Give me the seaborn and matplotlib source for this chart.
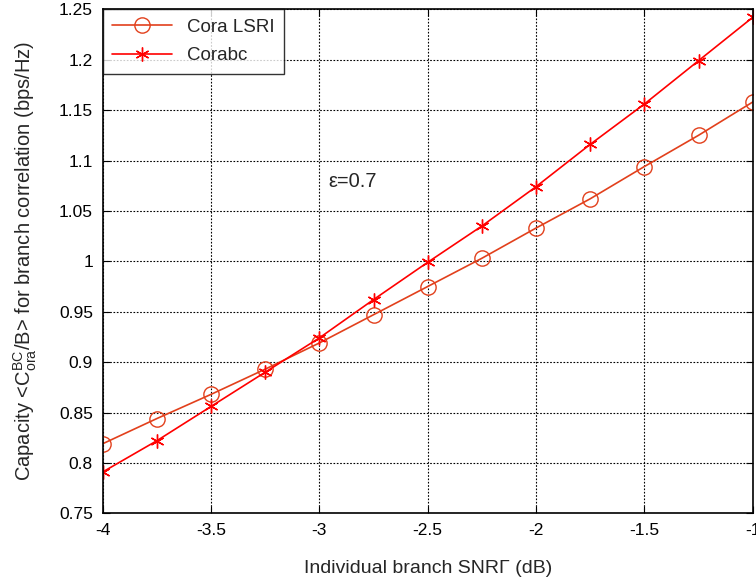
import numpy as np
import pandas as pd
import seaborn as sns
import matplotlib
matplotlib.use("Agg")
import matplotlib.pyplot as plt

snr_db = [-4, -3.75, -3.5, -3.25, -3, -2.75, -2.5, -2.25, -2, -1.75, -1.5, -1.25, -1]
cora_lsri = [0.819, 0.844, 0.868, 0.893, 0.919, 0.947, 0.975, 1.003, 1.033, 1.062, 1.094, 1.125, 1.158]
corabc = [0.791, 0.822, 0.856, 0.890, 0.924, 0.962, 0.999, 1.035, 1.074, 1.116, 1.156, 1.199, 1.242]
series_names = ["Cora LSRI", "Corabc"]
xticks = [-4, -3.5, -3, -2.5, -2, -1.5, -1]
yticks = [0.75, 0.8, 0.85, 0.9, 0.95, 1.0, 1.05, 1.1, 1.15, 1.2, 1.25]
ytick_labels = ["0.75", "0.8", "0.85", "0.9", "0.95", "1", "1.05", "1.1", "1.15", "1.2", "1.25"]
xtick_labels = ["-4", "-3.5", "-3", "-2.5", "-2", "-1.5", "-1"]

sns.set_theme(style="white")
plt.rcParams['font.family'] = ['Liberation Sans', 'DejaVu Sans']
plt.rcParams['mathtext.fontset'] = 'custom'
plt.rcParams['mathtext.rm'] = 'Liberation Sans'
plt.rcParams['mathtext.it'] = 'Liberation Sans'

df = pd.DataFrame({"x": snr_db * 2,
                   "y": cora_lsri + corabc,
                   "series": [series_names[0]] * len(snr_db) + [series_names[1]] * len(snr_db)})

fig = plt.figure(figsize=(7.56, 5.82), dpi=100)
ax = fig.add_axes([0.1358, 0.118, 0.8598, 0.866])

colors = {"Cora LSRI": "#e2401c", "Corabc": "#ff0000"}
markers = {"Cora LSRI": "o", "Corabc": (6, 2, 0)}
for name in series_names:
    sub = df[df.series == name]
    sns.lineplot(data=sub, x="x", y="y", ax=ax, color=colors[name], marker=markers[name],
                 markersize=11 if name == "Cora LSRI" else 10,
                 markerfacecolor="none", markeredgecolor=colors[name], markeredgewidth=1.0,
                 linewidth=1.2, label=name)

ax.set_xlim(-4, -1)
ax.set_ylim(0.75, 1.25)
ax.set_xticks(xticks)
ax.set_xticklabels(xtick_labels)
ax.set_yticks(yticks)
ax.set_yticklabels(ytick_labels)
ax.grid(True, color="black", linestyle=(0, (1.5, 1.5)), linewidth=0.8)
ax.tick_params(direction="in", length=5, width=0.8, colors="black", labelsize=12.5,
               top=True, right=True, bottom=True, left=True, pad=7)
for s in ax.spines.values():
    s.set_color("black")
    s.set_linewidth(1.2)
ax.set_axisbelow(True)

ax.set_xlabel("Individual branch SNR\u0393 (dB)", fontsize=14, labelpad=16)
ax.set_ylabel(r"Capacity <C$_{\mathrm{ora}}^{\mathrm{BC}}$/B> for branch correlation (bps/Hz)",
              fontsize=14.5, labelpad=14)

ax.text(-2.96, 1.079, "\u03b5=0.7", fontsize=14.5, va="center", ha="left")

leg = ax.legend(loc="upper left", fontsize=13.5, frameon=True, fancybox=False,
                borderaxespad=0.0, handlelength=3.2, borderpad=0.5, labelspacing=0.6)
leg.get_frame().set_edgecolor("black")
leg.get_frame().set_linewidth(1.0)

fig.savefig("out.png", dpi=100)
